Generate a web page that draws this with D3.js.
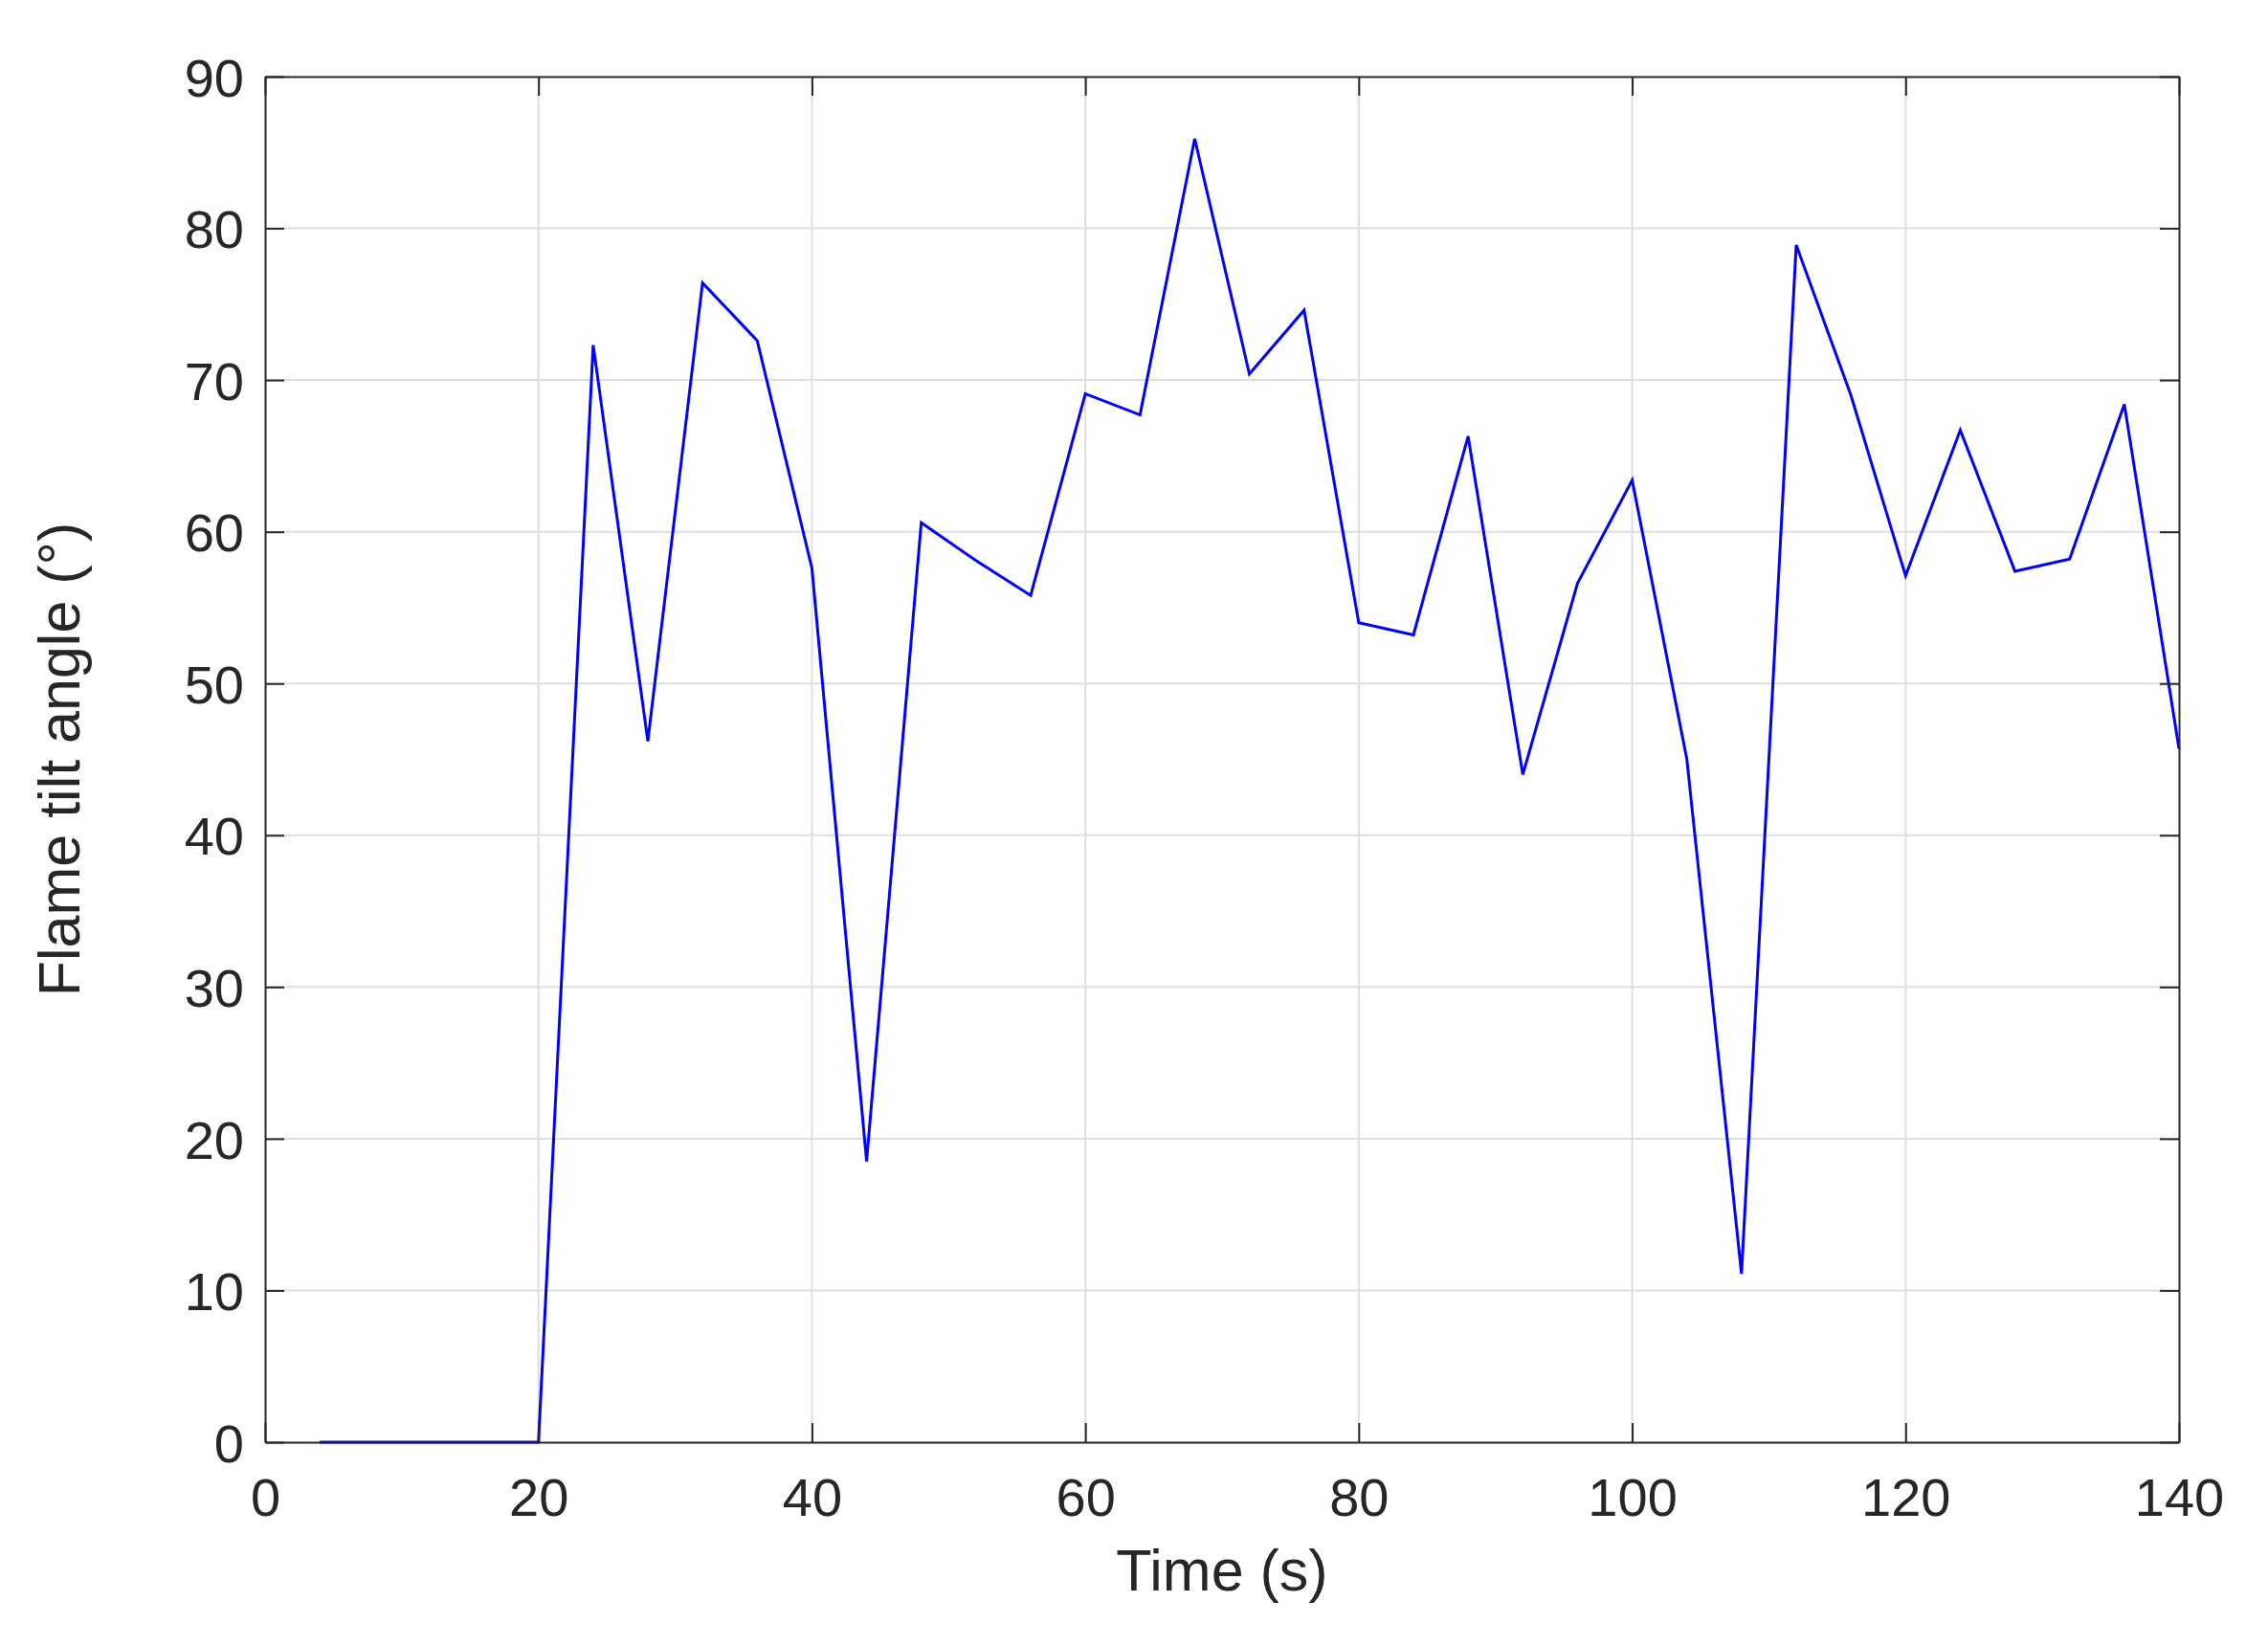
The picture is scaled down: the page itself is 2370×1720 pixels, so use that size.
<!DOCTYPE html>
<html>
<head>
<meta charset="utf-8">
<script src="https://cdn.jsdelivr.net/npm/d3@7"></script>
<style>
  html, body { margin: 0; padding: 0; background: #ffffff; }
  svg { display: block; }
  text { font-family: "Liberation Sans", Arial, sans-serif; fill: #262626; }
</style>
</head>
<body>
<svg id="chart" width="2370" height="1720"></svg>
<script>
// ---- data ----
const timeS = [4, 8, 12, 16, 20, 24, 28, 32, 36, 40, 44, 48, 52, 56, 60, 64, 68, 72, 76, 80,
               84, 88, 92, 96, 100, 104, 108, 112, 116, 120, 124, 128, 132, 136, 140];
const tiltAngle = [0, 0, 0, 0, 0, 72.3, 46.2, 76.4, 72.6, 57.6, 18.5, 60.6, 58.1, 55.8, 69.1, 67.7, 85.9, 70.4, 74.6, 54.0,
                   53.2, 66.3, 44.0, 56.6, 63.4, 45.0, 11.1, 78.9, 69.0, 57.1, 66.7, 57.4, 58.2, 68.4, 45.7];
const xTicks = [0, 20, 40, 60, 80, 100, 120, 140];
const yTicks = [0, 10, 20, 30, 40, 50, 60, 70, 80, 90];
const xLabel = "Time (s)";
const yLabel = "Flame tilt angle (°)";

(function () {
// ---- layout ----
const pL = 277, pR = 2277, pT = 80, pB = 1507;
const svg = d3.select("#chart");
const x = d3.scaleLinear().domain([0, 140]).range([pL, pR]);
const y = d3.scaleLinear().domain([0, 90]).range([pB, pT]);
const axisColor = "#262626";
const gridColor = "#dfdfdf";
const tickLen = 20;

// grid
const grid = svg.append("g");
grid.selectAll("line.gx").data(xTicks.slice(1, -1)).join("line")
  .attr("x1", d => x(d)).attr("x2", d => x(d)).attr("y1", pT).attr("y2", pB)
  .attr("stroke", gridColor).attr("stroke-width", 2);
grid.selectAll("line.gy").data(yTicks.slice(1, -1)).join("line")
  .attr("y1", d => y(d)).attr("y2", d => y(d)).attr("x1", pL).attr("x2", pR)
  .attr("stroke", gridColor).attr("stroke-width", 2);

const fs = 56;
const xAxisB = d3.axisBottom(x).tickValues(xTicks).tickSizeInner(-tickLen).tickSizeOuter(0);
const xAxisT = d3.axisTop(x).tickValues(xTicks).tickSizeInner(-tickLen).tickSizeOuter(0).tickFormat("");
const yAxisL = d3.axisLeft(y).tickValues(yTicks).tickSizeInner(-tickLen).tickSizeOuter(0);
const yAxisR = d3.axisRight(y).tickValues(yTicks).tickSizeInner(-tickLen).tickSizeOuter(0).tickFormat("");

function styleAxis(g) {
  g.select(".domain").attr("stroke", axisColor).attr("stroke-width", 2);
  g.selectAll(".tick line").attr("stroke", axisColor).attr("stroke-width", 2);
  g.selectAll(".tick text").attr("fill", axisColor)
    .style("font-family", '"Liberation Sans", Arial, sans-serif').style("font-size", fs + "px");
}

// data line
const line = d3.line().x((d, i) => x(timeS[i])).y(d => y(d));
svg.append("path").datum(tiltAngle)
  .attr("d", line).attr("fill", "none").attr("stroke", "#0000ff").attr("stroke-width", 3)
  .attr("stroke-linejoin", "miter");

const gB = svg.append("g").attr("transform", `translate(0,${pB})`).call(xAxisB).call(styleAxis);
gB.selectAll(".tick text").attr("dy", "0").attr("y", 77);
svg.append("g").attr("transform", `translate(0,${pT})`).call(xAxisT).call(styleAxis);
const gL = svg.append("g").attr("transform", `translate(${pL},0)`).call(yAxisL).call(styleAxis);
gL.selectAll(".tick text").attr("dy", "0.36em").attr("x", -22);
svg.append("g").attr("transform", `translate(${pR},0)`).call(yAxisR).call(styleAxis);

// axis titles
svg.append("text").attr("x", (pL + pR) / 2).attr("y", 1662)
  .attr("text-anchor", "middle").style("font-size", "61px").text(xLabel);
svg.append("text").attr("transform", `translate(83,${(pT + pB) / 2}) rotate(-90)`)
  .attr("text-anchor", "middle").style("font-size", "61px").text(yLabel);
})();
</script>
</body>
</html>
